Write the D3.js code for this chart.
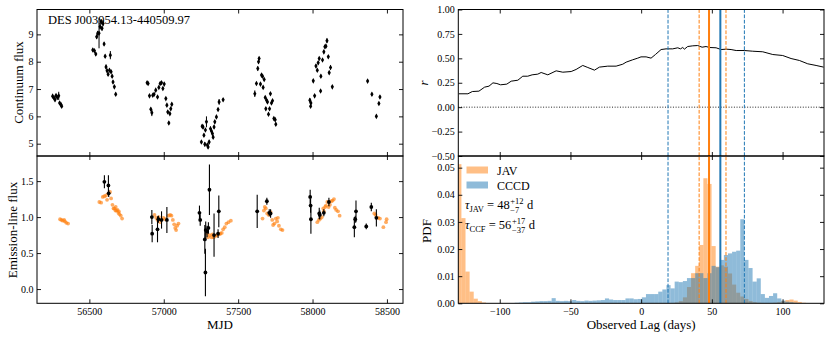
<!DOCTYPE html>
<html>
<head>
<meta charset="utf-8">
<script src="https://cdn.jsdelivr.net/npm/d3@7"></script>
<style>
  body { margin: 0; background: #fff; }
  text { font-family: "Liberation Serif", "Times New Roman", serif; fill: #000; }
</style>
</head>
<body>
<div id="chart"></div>
<script>
// ---- data ----
var objName = "DES J003954.13-440509.97";

// continuum light curve (top left)
var contMjd = [56253,56262,56269,56276,56285,56294,56300,56309,56314,
  56523,56534,56543,56549,56556,56565,56572,56579,56585,56592,56599,56606,56612,56619,56626,56635,56641,56646,56653,56659,56668,56677,
  56888,56895,56904,56913,56920,56926,56935,56946,56958,56967,56976,56985,56994,57003,57014,57021,57027,57034,57041,57047,57054,
  57253,57258,57264,57270,57276,57280,57287,57293,57298,57305,57314,57321,57327,57332,57338,57343,57354,57365,57372,57399,
  57612,57623,57632,57637,57641,57650,57657,57664,57668,57675,57682,57686,57691,57697,57704,57711,57717,57724,57731,57740,57749,57753,
  57982,57987,57989,58005,58014,58023,58032,58038,58045,58054,58056,58067,58076,58083,58090,58097,58106,58112,58121,58133,
  58370,58399,58429,58446,58453];
var contFlux = [6.74,6.68,6.61,6.76,6.69,6.75,6.49,6.43,6.37,
  8.43,8.40,8.28,8.91,9.04,9.04,9.28,9.46,9.22,9.40,8.65,8.20,7.81,7.67,7.54,7.69,8.24,7.63,7.47,7.26,7.08,6.81,
  7.23,7.20,6.75,6.26,6.13,6.77,6.81,6.96,6.71,7.06,7.20,7.23,7.02,7.18,6.65,6.41,6.16,5.76,6.10,6.28,6.44,
  5.06,5.64,5.61,5.31,4.98,5.50,5.80,4.95,4.88,5.06,5.55,5.46,5.37,5.24,5.61,5.80,5.98,6.25,6.53,6.61,
  6.83,7.20,7.75,8.00,8.12,7.18,7.51,7.47,7.06,7.35,6.69,6.28,6.59,6.53,6.08,6.28,6.83,6.49,6.57,5.92,5.88,5.71,
  6.59,6.37,6.49,7.30,6.75,7.84,7.69,7.96,8.12,6.93,7.47,8.06,8.36,8.55,8.57,8.77,8.18,7.60,7.79,7.08,
  7.29,6.81,6.00,6.47,6.71];
var contErr = [0.06,0.06,0.06,0.06,0.06,0.15,0.06,0.06,0.06,
  0.06,0.06,0.06,0.08,0.08,0.55,0.10,0.10,0.08,0.10,0.06,0.06,0.08,0.06,0.06,0.06,0.15,0.06,0.06,0.06,0.06,0.06,
  0.05,0.05,0.05,0.06,0.12,0.05,0.05,0.05,0.05,0.05,0.05,0.05,0.06,0.05,0.05,0.05,0.06,0.06,0.05,0.06,0.06,
  0.06,0.06,0.08,0.06,0.08,0.06,0.20,0.06,0.06,0.08,0.08,0.06,0.06,0.06,0.06,0.06,0.06,0.06,0.10,0.06,
  0.12,0.06,0.08,0.08,0.06,0.06,0.06,0.06,0.06,0.06,0.06,0.06,0.06,0.06,0.06,0.06,0.06,0.06,0.06,0.06,0.06,0.06,
  0.08,0.06,0.06,0.06,0.06,0.06,0.06,0.06,0.06,0.06,0.06,0.06,0.06,0.06,0.06,0.08,0.06,0.06,0.08,0.06,
  0.06,0.06,0.06,0.06,0.06];

// emission-line light curve, measured (black)
var lineMjd = [56601,56628,56630,56920,56922,56958,56964,56985,57021,
  57240,57245,57276,57280,57282,57291,57300,57307,57338,57365,57370,
  57628,57693,57709,57718,
  57984,57987,57989,58045,58049,58076,58110,
  58281,58287,58292,58361,58395,58429];
var lineFlux = [1.49,1.44,1.33,1.00,0.77,0.83,0.97,0.96,0.96,
  1.06,0.96,0.69,0.23,0.82,0.80,0.85,1.38,0.75,0.77,1.08,
  1.08,1.22,1.06,1.05,
  1.28,1.16,0.97,1.05,1.03,1.06,1.21,
  0.86,0.97,1.08,0.87,1.14,0.99];
var lineErr = [0.09,0.14,0.05,0.10,0.12,0.18,0.05,0.12,0.18,
  0.10,0.08,0.20,0.33,0.12,0.08,0.08,0.35,0.30,0.06,0.22,
  0.23,0.05,0.05,0.06,
  0.10,0.10,0.20,0.08,0.06,0.05,0.06,
  0.14,0.05,0.15,0.04,0.06,0.12];

// JAVELIN model line light curve (orange)
var javMjd = [56303,56312,56321,56330,56336,56345,56357,
  56567,56579,56590,56601,56612,56619,56628,56639,56646,56655,56662,56668,56675,56677,56682,56689,56695,56698,56702,56711,56720,
  56938,56949,56958,56967,56976,56998,57009,57032,57043,57052,57061,57070,57077,57083,57090,57099,
  57291,57298,57309,57321,57327,57336,57350,57359,57372,57381,57390,57399,57410,57421,57435,57451,
  57664,57673,57679,57686,57695,57706,57718,57729,57735,57744,57753,57762,57767,57774,57787,57798,
  58032,58043,58054,58063,58072,58076,58085,58090,58099,58108,58117,58126,58135,58144,58150,58159,58171,58182,
  58415,58424,58442,58453,58476,58494,58498];
var javFlux = [0.97,0.96,0.95,0.96,0.94,0.92,0.91,
  1.21,1.20,1.28,1.29,1.30,1.24,1.33,1.35,1.26,1.17,1.12,1.12,1.09,1.14,1.09,1.10,1.06,1.08,1.04,1.02,0.98,
  1.03,0.99,0.96,1.00,0.93,0.99,0.97,1.02,1.03,1.02,0.96,0.90,0.85,0.82,0.88,0.91,
  0.77,0.72,0.75,0.72,0.76,0.72,0.74,0.75,0.76,0.77,0.78,0.83,0.86,0.91,0.93,0.95,
  0.98,1.09,1.14,1.12,1.05,1.03,1.07,0.96,0.89,0.91,0.98,0.94,0.99,0.88,0.83,0.82,
  0.93,0.96,0.98,1.00,1.12,1.08,1.14,1.16,1.21,1.14,1.17,1.22,1.23,1.25,1.13,1.10,1.08,1.02,
  1.05,1.03,0.99,0.98,0.86,0.93,0.97];

// cross-correlation function (top right)
var ccfLag = [-129,-122.5,-119.4,-114.7,-110.7,-107.6,-104.8,-102,-99.4,-95,-91.9,-87.2,-83.7,-80.2,-77.1,-73.1,-70.7,-66,
  -60.1,-55.4,-49.5,-46,-41.3,-37.7,-33,-29.5,-23.6,-17.7,-13,-10.6,-6,-2.4,-0.1,3.5,7,10.1,14.1,17.6,22.3,25.9,27.8,
  29.4,30.6,32.9,36.5,40,43.1,45.9,48.3,53,56.5,60.1,63.6,67.2,73.1,78.9,86,93.1,100.1,106,111.9,117.8,123.7,129];
var ccfR = [0.137,0.137,0.160,0.164,0.205,0.215,0.249,0.242,0.229,0.236,0.266,0.276,0.317,0.317,0.331,0.338,0.355,0.331,
  0.372,0.358,0.365,0.386,0.427,0.406,0.379,0.410,0.420,0.420,0.440,0.461,0.485,0.502,0.515,0.515,0.502,0.539,0.590,0.597,0.597,0.608,0.597,
  0.611,0.594,0.621,0.628,0.631,0.614,0.621,0.611,0.608,0.590,0.594,0.590,0.580,0.580,0.573,0.567,0.539,0.529,0.498,0.478,0.444,0.427,0.410];

// lag posteriors (bottom right), bins start at binStart, width binWidth
var binStart = -130, binWidth = 2.9;
var javPdf = [0.0513,0.0314,0.0117,0.0043,0.0017,0.0008,0.0003,0,0,0,
  0,0,0,0,0,0,0,0,0,0, 0,0,0,0,0,0,0,0,0,0, 0,0,0,0,0,0,0,0,0,0, 0,0,0,0,0,0,0,0,0,0,
  0,0,0,0.0003,0.0008,0.0022,0.0060,0.0111,0.0138,0.0215,
  0.0461,0.0440,0.0211,0.0135,0.0140,0.0135,0.0110,0.0069,0.0039,0.0025,
  0.0016,0.0008,0.0004,0.0002,0.0001,0,0,0.0002,0.0004,0.0008,
  0.0012,0.0014,0.0010,0.0005,0.0002,0,0,0,0,0];
var cccdPdf = [0,0,0,0,0,0,0,0,0,0,
  0,0,0,0.0001,0.0002,0.0003,0.0004,0.0004,0.0006,0.0007,
  0.0008,0.0008,0.0009,0.0019,0.0009,0.0008,0.0009,0.0008,0.0012,0.0009,
  0.0008,0.0010,0.0009,0.0010,0.0011,0.0012,0.0018,0.0014,0.0012,0.0012,
  0.0012,0.0018,0.0018,0.0015,0.0016,0.0022,0.0034,0.0034,0.0034,0.0043,
  0.0051,0.0067,0.0055,0.0080,0.0078,0.0082,0.0093,0.0093,0.0111,0.0111,
  0.0093,0.0111,0.0138,0.0133,0.0160,0.0178,0.0184,0.0190,0.0194,0.0310,
  0.0160,0.0130,0.0080,0.0092,0.0034,0.0020,0.0027,0.0037,0.0018,0.0010,
  0.0006,0.0004,0.0002,0.0001,0,0,0,0,0,0];

// lag measurements: [median, lower, upper]
var tauJav = [48, 41, 60];
var tauCcf = [56, 19, 73];

// ticks
var mjdTicks = [56500, 57000, 57500, 58000, 58500];
var contTicks = [5, 6, 7, 8, 9];
var lineTicks = [0.0, 0.5, 1.0, 1.5];
var lagTicks = [-100, -50, 0, 50, 100];
var rTicks = [-0.5, -0.25, 0, 0.25, 0.5, 0.75, 1.0];
var pdfTicks = [0, 0.01, 0.02, 0.03, 0.04, 0.05];

// ---- layout ----
var svgW = 831, svgH = 338;
var yTop = 9.5, yMid = 156, yBot = 303.3;
var l1 = 37, r1 = 403, l2 = 458.3, r2 = 824;
var cOrange = "#ff7f0e", cBlue = "#1f77b4";

var svg = d3.select("#chart").append("svg")
  .attr("width", svgW).attr("height", svgH);

var xMjd = d3.scaleLinear().domain([56148, 58608]).range([l1, r1]);
var yCont = d3.scaleLinear().domain([4.55, 9.91]).range([yMid, yTop]);
var yLine = d3.scaleLinear().domain([-0.198, 1.849]).range([yBot, yMid]);
var xLag = d3.scaleLinear().domain([-129.3, 129.3]).range([l2, r2]);
var yR = d3.scaleLinear().domain([-0.5, 1.0]).range([yMid, yTop]);
var yPdf = d3.scaleLinear().domain([0, 0.0543]).range([yBot, yMid]);

function clip(id, x0, x1, y0, y1) {
  svg.append("clipPath").attr("id", id).append("rect")
    .attr("x", x0).attr("y", y0).attr("width", x1 - x0).attr("height", y1 - y0);
}
clip("cTR", l2, r2, yTop, yMid);
clip("cBR", l2, r2, yMid, yBot);

// axes with inward ticks on all four sides
function axes(xs, ys, xTicks, yTicks, yFmt, xFmt) {
  var x0 = xs.range()[0], x1 = xs.range()[1];
  var y1 = ys.range()[0], y0 = ys.range()[1];
  var gs = [];
  gs.push(svg.append("g").attr("transform", "translate(" + x0 + ",0)")
    .call(d3.axisLeft(ys).tickValues(yTicks).tickSize(-4).tickSizeOuter(0).tickPadding(3.5).tickFormat(yFmt)));
  gs.push(svg.append("g").attr("transform", "translate(" + x1 + ",0)")
    .call(d3.axisRight(ys).tickValues(yTicks).tickSize(-4).tickSizeOuter(0).tickFormat("")));
  gs.push(svg.append("g").attr("transform", "translate(0," + y0 + ")")
    .call(d3.axisTop(xs).tickValues(xTicks).tickSize(-4).tickSizeOuter(0).tickFormat("")));
  gs.push(svg.append("g").attr("transform", "translate(0," + y1 + ")")
    .call(d3.axisBottom(xs).tickValues(xTicks).tickSize(-4).tickSizeOuter(0).tickPadding(4.5)
      .tickFormat(xFmt || "")));
  gs.forEach(function (g) {
    g.select(".domain").remove();
    g.attr("font-family", null).attr("font-size", null);
    g.selectAll(".tick line").attr("stroke", "#000").attr("stroke-width", 0.9);
    g.selectAll(".tick text").style("font-size", "10px").attr("fill", "#000");
  });
  svg.append("rect").attr("x", x0).attr("y", y0).attr("width", x1 - x0).attr("height", y1 - y0)
    .attr("fill", "none").attr("stroke", "#000").attr("stroke-width", 1);
}

// ---- top left: continuum ----
var contData = contMjd.map(function (m, i) { return { x: m, y: contFlux[i], e: contErr[i] }; });
svg.append("g").selectAll("line").data(contData).join("line")
  .attr("x1", function (d) { return xMjd(d.x); }).attr("x2", function (d) { return xMjd(d.x); })
  .attr("y1", function (d) { return yCont(d.y - d.e); }).attr("y2", function (d) { return yCont(d.y + d.e); })
  .attr("stroke", "#000").attr("stroke-width", 1);
svg.append("g").selectAll("path").data(contData).join("path")
  .attr("d", d3.symbol(d3.symbolDiamond, 9))
  .attr("transform", function (d) { return "translate(" + xMjd(d.x) + "," + yCont(d.y) + ")"; })
  .attr("fill", "#000");

svg.append("text").attr("x", 48).attr("y", 24).style("font-size", "12.5px").text(objName);

axes(xMjd, yCont, mjdTicks, contTicks, d3.format("d"), null);

// ---- bottom left: emission line ----
var javData = javMjd.map(function (m, i) { return { x: m, y: javFlux[i] }; });
svg.append("g").selectAll("circle").data(javData).join("circle")
  .attr("cx", function (d) { return xMjd(d.x); }).attr("cy", function (d) { return yLine(d.y); })
  .attr("r", 1.9).attr("fill", cOrange).attr("fill-opacity", 0.65);

var lineData = lineMjd.map(function (m, i) { return { x: m, y: lineFlux[i], e: lineErr[i] }; });
svg.append("g").selectAll("line").data(lineData).join("line")
  .attr("x1", function (d) { return xMjd(d.x); }).attr("x2", function (d) { return xMjd(d.x); })
  .attr("y1", function (d) { return yLine(d.y - d.e); }).attr("y2", function (d) { return yLine(d.y + d.e); })
  .attr("stroke", "#000").attr("stroke-width", 1.1);
svg.append("g").selectAll("circle").data(lineData).join("circle")
  .attr("cx", function (d) { return xMjd(d.x); }).attr("cy", function (d) { return yLine(d.y); })
  .attr("r", 1.9).attr("fill", "#000");

axes(xMjd, yLine, mjdTicks, lineTicks, d3.format(".1f"), d3.format("d"));

// ---- lag markers, both right panels ----
function lagLines(clipId, ys) {
  var g = svg.append("g").attr("clip-path", "url(#" + clipId + ")");
  [[tauJav, cOrange], [tauCcf, cBlue]].forEach(function (p) {
    var t = p[0], c = p[1];
    [t[1], t[2]].forEach(function (v) {
      g.append("line").attr("x1", xLag(v)).attr("x2", xLag(v))
        .attr("y1", ys.range()[0]).attr("y2", ys.range()[1])
        .attr("stroke", c).attr("stroke-width", 1).attr("stroke-dasharray", "3.7,1.6");
    });
    g.append("line").attr("x1", xLag(t[0])).attr("x2", xLag(t[0]))
      .attr("y1", ys.range()[0]).attr("y2", ys.range()[1])
      .attr("stroke", c).attr("stroke-width", 2);
  });
}

// ---- top right: CCF ----
svg.append("line").attr("x1", l2).attr("x2", r2).attr("y1", yR(0)).attr("y2", yR(0))
  .attr("stroke", "#222").attr("stroke-width", 1).attr("stroke-dasharray", "1,1.65");
var ccfLine = d3.line().x(function (d, i) { return xLag(d); }).y(function (d, i) { return yR(ccfR[i]); });
svg.append("path").datum(ccfLag).attr("d", ccfLine).attr("clip-path", "url(#cTR)")
  .attr("fill", "none").attr("stroke", "#000").attr("stroke-width", 1);
lagLines("cTR", yR);
axes(xLag, yR, lagTicks, rTicks, d3.format(".2f"), null);

// ---- bottom right: lag posteriors ----
function hist(vals, color) {
  svg.append("g").attr("clip-path", "url(#cBR)").selectAll("rect").data(vals).join("rect")
    .attr("x", function (d, i) { return xLag(binStart + i * binWidth); })
    .attr("width", function (d, i) { return xLag(binStart + (i + 1) * binWidth) - xLag(binStart + i * binWidth); })
    .attr("y", function (d) { return yPdf(d); })
    .attr("height", function (d) { return yPdf(0) - yPdf(d); })
    .attr("fill", color).attr("fill-opacity", 0.5);
}
hist(javPdf, cOrange);
hist(cccdPdf, cBlue);
lagLines("cBR", yPdf);
axes(xLag, yPdf, lagTicks, pdfTicks, d3.format(".2f"), d3.format("d"));

// legend
var leg = [["JAV", cOrange], ["CCCD", cBlue]];
leg.forEach(function (d, i) {
  svg.append("rect").attr("x", 466.5).attr("y", 166.5 + i * 15).attr("width", 21.5).attr("height", 7)
    .attr("fill", d[1]).attr("fill-opacity", 0.5);
  svg.append("text").attr("x", 497).attr("y", 174.5 + i * 15).style("font-size", "12px").text(d[0]);
});

function tauLabel(x, y, sub, t) {
  var main = svg.append("text").attr("x", x).attr("y", y).style("font-size", "12.5px");
  main.append("tspan").style("font-style", "italic").text("τ");
  main.append("tspan").attr("dy", 3).style("font-size", "8.5px").text(sub);
  main.append("tspan").attr("dy", -3).text(" = " + t[0]);
  var w = main.node().getComputedTextLength();
  var up = svg.append("text").attr("x", x + w + 0.5).attr("y", y - 5).style("font-size", "8.5px")
    .text("+" + (t[2] - t[0]));
  var dn = svg.append("text").attr("x", x + w + 0.5).attr("y", y + 3.5).style("font-size", "8.5px")
    .text("\u2212" + (t[0] - t[1]));
  var ws = Math.max(up.node().getComputedTextLength(), dn.node().getComputedTextLength());
  svg.append("text").attr("x", x + w + ws + 4).attr("y", y).style("font-size", "12.5px").text("d");
}
tauLabel(465, 209, "JAV", tauJav);
tauLabel(465, 229, "CCF", tauCcf);

// ---- axis labels ----
function yLabel(x, y, s, italic) {
  svg.append("text").attr("transform", "translate(" + x + "," + y + ")rotate(-90)")
    .attr("text-anchor", "middle").style("font-size", "13px")
    .style("font-style", italic ? "italic" : "normal").text(s);
}
yLabel(23, 82.5, "Continuum flux");
yLabel(16.5, 230, "Emission-line flux");
yLabel(428, 83, "r", true);
yLabel(430.5, 231, "PDF");

svg.append("text").attr("x", (l1 + r1) / 2).attr("y", 329).attr("text-anchor", "middle")
  .style("font-size", "13px").text("MJD");
svg.append("text").attr("x", (l2 + r2) / 2).attr("y", 329).attr("text-anchor", "middle")
  .style("font-size", "13px").text("Observed Lag (days)");
</script>
</body>
</html>
